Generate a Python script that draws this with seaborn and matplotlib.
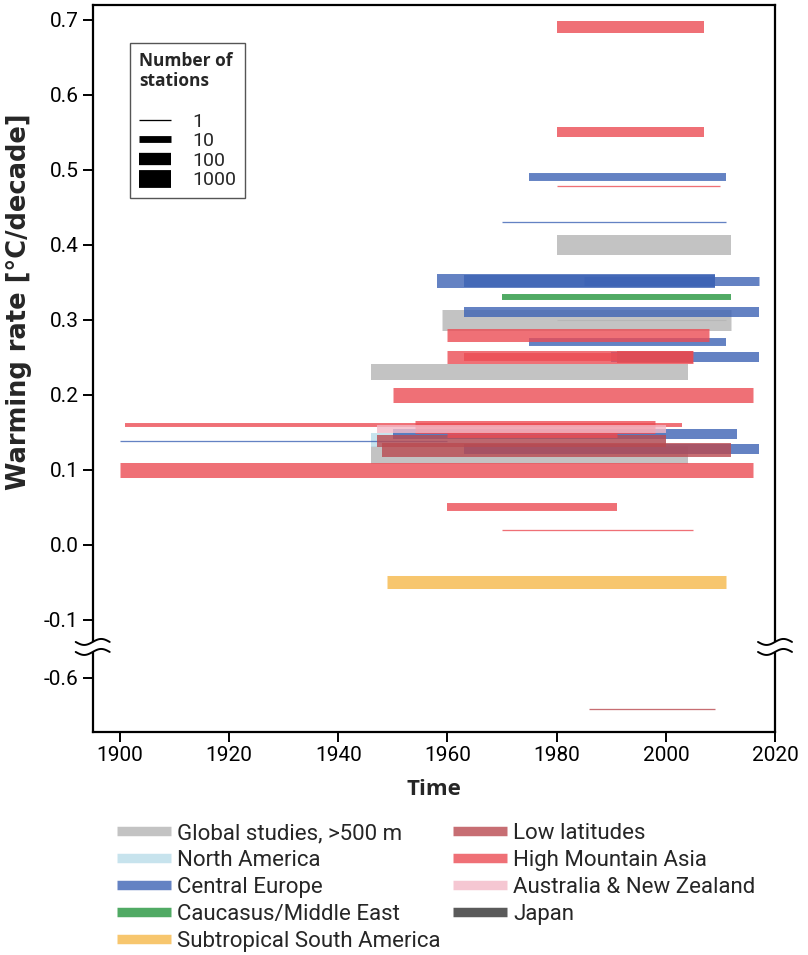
import numpy as np
import pandas as pd
import matplotlib
matplotlib.use("Agg")
import matplotlib.pyplot as plt
import seaborn as sns
from matplotlib.colors import LogNorm
from matplotlib.lines import Line2D
from matplotlib import font_manager

# ---------------- data ----------------
region_order = ["Global studies, >500 m", "North America", "Central Europe",
                "Caucasus/Middle East", "Subtropical South America",
                "Low latitudes", "High Mountain Asia",
                "Australia & New Zealand", "Japan"]
region_colors = ["#b5b5b5", "#badde9", "#3d63b5", "#24953d", "#f6b84a",
                 "#ba4a50", "#ec4c54", "#f3bac7", "#313131"]

G, NA, CE, CA, SSA, LL, HMA, AUS, JP = region_order

bar_region = [G, G, G, G,
              NA,
              CE, CE, CE, CE, CE, CE, CE, CE, CE, CE, CE,
              CA,
              SSA,
              LL, LL, LL, LL,
              HMA, HMA, HMA, HMA, HMA, HMA, HMA, HMA, HMA, HMA, HMA, HMA, HMA,
              AUS,
              G, G]
bar_start = [1980, 1959, 1946, 1946,
             1946,
             1975, 1970, 1958, 1963, 1985, 1963, 1975, 1990, 1950, 1900, 1963,
             1970,
             1949,
             1991, 1947, 1948, 1986,
             1980, 1980, 1980, 1960, 1960, 1963, 1950, 1901, 1954, 1900, 1960, 1970, 1960,
             1947,
             1985, 1980]
bar_end = [2012, 2012, 2004, 2004,
           2000,
           2011, 2011, 2009, 2009, 2017, 2017, 2011, 2017, 2013, 1960, 2017,
           2012,
           2011,
           2005, 2000, 2012, 2009,
           2007, 2007, 2010, 2008, 2005, 1991, 2016, 2003, 1998, 2016, 1991, 2005, 1991,
           2000,
           2005, 2011]
bar_rate = [0.40, 0.30, 0.23, 0.12,
            0.14,
            0.49, 0.43, 0.352, 0.352, 0.352, 0.31, 0.27, 0.25, 0.148, 0.139, 0.128,
            0.33,
            -0.05,
            0.25, 0.138, 0.127, -0.642,
            0.69, 0.55, 0.479, 0.28, 0.25, 0.25, 0.20, 0.16, 0.157, 0.10, 0.05, 0.02, 0.148,
            0.155,
            0.352, 0.30]
bar_stations = [2500, 3800, 470, 1000,
                200,
                16, 1, 200, 88, 25, 38, 16, 38, 38, 1, 38,
                7,
                134,
                88, 88, 200, 1,
                88, 38, 1, 134, 134, 16, 310, 3, 134, 310, 16, 1, 10,
                16,
                1, 1]

station_levels = [1, 10, 100, 1000]
x_ticks = [1900, 1920, 1940, 1960, 1980, 2000, 2020]
y_ticks = [0.7, 0.6, 0.5, 0.4, 0.3, 0.2, 0.1, 0.0, -0.1, -0.6]
y_tick_labels = ["0.7", "0.6", "0.5", "0.4", "0.3", "0.2", "0.1", "0.0", "-0.1", "-0.6"]

# ---------------- style ----------------
sns.set_style("ticks")
avail = {f.name for f in font_manager.fontManager.ttflist}
narrow = "Liberation Sans Narrow" if "Liberation Sans Narrow" in avail else "Roboto"
plt.rcParams["font.family"] = [narrow, "DejaVu Sans"]
label_family = ["Open Sans", "DejaVu Sans"]

fig = plt.figure(figsize=(8.08, 9.55), dpi=100)
ax = fig.add_axes([92.7 / 808, 1 - 731.7 / 955, (775 - 92.7) / 808, (731.7 - 5) / 955])

rows = []
for i, (r, s, e, v, n) in enumerate(zip(bar_region, bar_start, bar_end, bar_rate, bar_stations)):
    rows.append(dict(bar=i, region=r, year=s, rate=v, stations=n))
    rows.append(dict(bar=i, region=r, year=e, rate=v, stations=n))
df = pd.DataFrame(rows)

LW_MIN, LW_DEC = 0.94, 3.96   # points; linewidth = LW_MIN + LW_DEC*log10(stations)
ALPHA = 0.8
palette = dict(zip(region_order, region_colors))

sns.lineplot(data=df, x="year", y="rate", hue="region", hue_order=region_order,
             palette=palette, size="stations", size_norm=LogNorm(1, 10000),
             sizes=(LW_MIN, LW_MIN + 4 * LW_DEC), units="bar", estimator=None,
             sort=False, legend=False, alpha=ALPHA, solid_capstyle="butt", ax=ax)

# ---------------- broken y axis via function scale ----------------
A, B, GAP = -0.134, -0.561, 0.004


def fwd(v):
    v = np.asarray(v, dtype=float)
    return np.where(v >= A, v,
                    np.where(v >= B, A + (v - A) * GAP / (A - B), A - GAP + (v - B)))


def inv(p):
    p = np.asarray(p, dtype=float)
    return np.where(p >= A, p,
                    np.where(p >= A - GAP, A + (p - A) * (A - B) / GAP, B + (p - (A - GAP))))


ax.set_yscale("function", functions=(fwd, inv))
y_lo = float(inv(-0.249))
ax.set_ylim(y_lo, 0.72)
ax.set_xlim(1895, 2020)
ax.set_xticks(x_ticks)
ax.set_xticklabels([str(t) for t in x_ticks])
ax.set_yticks(y_ticks)
ax.set_yticklabels(y_tick_labels)
ax.minorticks_off()
ax.tick_params(direction="out", length=7, width=1.4, labelsize=15, pad=3, colors="black")

for sp in ax.spines.values():
    sp.set_visible(True)
    sp.set_linewidth(1.6)
    sp.set_color("black")

# break marks on both spines
p_lo, p_hi = float(fwd(y_lo)), 0.72
yb = ((A - GAP / 2) - p_lo) / (p_hi - p_lo)
w_px, h_px = 682.3, 726.7
t = np.linspace(-1, 1, 60)
for x0 in (0.0, 1.0):
    xs = x0 + t * 17 / w_px
    wave = 3.0 / h_px * np.sin(np.pi * t)
    y_up = yb + 5.0 / h_px + wave
    y_dn = yb - 5.0 / h_px + wave
    ax.fill(np.r_[xs, xs[::-1]], np.r_[y_up, y_dn[::-1]], color="white",
            transform=ax.transAxes, clip_on=False, zorder=4, lw=0)
    for yy in (y_up, y_dn):
        ax.plot(xs, yy, color="black", lw=1.4, transform=ax.transAxes,
                clip_on=False, zorder=5)

# labels
ax.set_xlabel("Time", fontsize=16, fontweight="bold", family=label_family)
ax.xaxis.set_label_coords(0.5, -0.065)
ax.set_ylabel("Warming rate [°C/decade]", fontsize=18.5, fontweight="bold",
              family=["DejaVu Sans"])
ax.yaxis.set_label_coords(-0.089, 0.592)

# station-size legend
def lw_of(n):
    return LW_MIN + LW_DEC * np.log10(n)


st_handles = [Line2D([0], [0], color="black", lw=lw_of(n), solid_capstyle="butt")
              for n in station_levels]
leg1 = ax.legend(st_handles, [str(n) for n in station_levels],
                 title="Number of\nstations\n ", loc="upper left",
                 bbox_to_anchor=(0.0547, 0.948), borderaxespad=0, frameon=True,
                 fancybox=False, edgecolor="#555555", framealpha=1, fontsize=14,
                 title_fontproperties=dict(weight="bold", size=12.5, family="Open Sans"),
                 alignment="left", handlelength=1.65, handletextpad=1.1,
                 borderpad=0.45, labelspacing=0.08)
leg1.get_frame().set_linewidth(1.0)

# region legend below axes
reg_handles = [Line2D([0], [0], color=c, lw=6.8, alpha=ALPHA, solid_capstyle="butt")
               for c in region_colors]
fig.legend(reg_handles, region_order, ncol=2, loc="upper left",
           bbox_to_anchor=(117 / 808, 1 - 823 / 955), frameon=False, fontsize=16,
           handlelength=2.43, handletextpad=0.28, columnspacing=0.55,
           labelspacing=0.27, borderpad=0, borderaxespad=0)

fig.savefig("out.png", dpi=100)
